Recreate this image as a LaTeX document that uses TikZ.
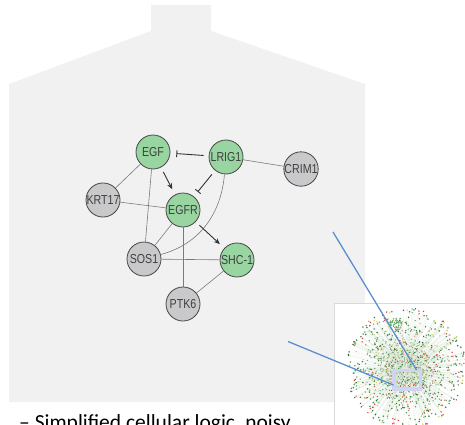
\documentclass[tikz,border=0pt]{standalone}
\usepackage{fontspec}
\setmainfont{Carlito}
\newfontfamily\genefont[FakeStretch=0.82]{Liberation Sans}
\usetikzlibrary{arrows.meta}
\definecolor{cellgrey}{HTML}{F1F1F1}
\definecolor{hitgreen}{HTML}{98D5A0}
\definecolor{othergrey}{HTML}{C9C9CB}
\definecolor{rimgrey}{HTML}{474747}
\definecolor{linkgrey}{HTML}{7A7A7A}
\definecolor{zoomblue}{HTML}{5B8FCF}
\definecolor{framelav}{HTML}{D2D2F4}
\definecolor{hb1}{HTML}{3C8A46}
\definecolor{hb2}{HTML}{2E7A3A}
\definecolor{hb3}{HTML}{6AAA6A}
\definecolor{hb4}{HTML}{E04848}
\definecolor{hb5}{HTML}{D9CF5A}
\definecolor{hb6}{HTML}{2F6B36}
\begin{document}
\begin{tikzpicture}[x=1pt,y=1pt,
  gene/.style={circle, draw=rimgrey, line width=0.8pt, minimum size=34pt, inner sep=0pt,
    font=\genefont\fontsize{13}{13}\selectfont, text=black!75},
  hit/.style={gene, fill=hitgreen},
  other/.style={gene, fill=othergrey},
  link/.style={draw=linkgrey, line width=0.6pt},
  act/.style={draw=black!80, line width=0.9pt, -{Stealth[length=6pt,width=5pt]},
    shorten <=5pt, shorten >=6pt},
  inhib/.style={draw=black!80, line width=0.9pt, -{Bar[width=7pt]},
    shorten <=5pt, shorten >=6pt},
  hbline/.style={draw=hb3!22, line width=0.15pt},
  zoomline/.style={draw=zoomblue, line width=1.3pt}]
  \useasboundingbox (0,0) rectangle (465,424);
  % cell outline
  \fill[cellgrey] (9,22) -- (9,340) -- (151,393) -- (151,419) -- (211,419)
    -- (211,393) -- (365,340) -- (365,22) -- cycle;
  % genes
  \node[hit] (EGF) at (153,272) {EGF};
  \node[hit] (LRIG1) at (226,267) {LRIG1};
  \node[other] (CRIM1) at (301,255) {CRIM1};
  \node[other] (KRT17) at (103,224) {KRT17};
  \node[hit] (EGFR) at (183,214) {EGFR};
  \node[other] (SOS1) at (144,165) {SOS1};
  \node[hit] (SHC1) at (237,164) {SHC-1};
  \node[other] (PTK6) at (183,120) {PTK6};
  % interactions
  \draw[link] (EGF) -- (KRT17);
  \draw[link] (EGF) -- (SOS1);
  \draw[link] (KRT17) -- (EGFR);
  \draw[link] (EGFR) -- (SOS1);
  \draw[link] (EGFR) -- (PTK6);
  \draw[link] (SOS1) -- (SHC1);
  \draw[link] (SHC1) -- (PTK6);
  \draw[link] (LRIG1) -- (CRIM1);
  \draw[link] (LRIG1) to[out=-95,in=15] (SOS1);
  \draw[act] (EGF) -- (EGFR);
  \draw[act] (EGFR) -- (SHC1);
  \draw[inhib] (LRIG1) -- (EGF);
  \draw[inhib] (LRIG1) -- (EGFR);
  % whole network inset
  \draw[draw=black!15, fill=white] (334,121) rectangle (470,-5);
  \begin{scope}
    \clip (335,-1) rectangle (466,120);
    \pgfmathsetseed{42}
    \foreach \i in {1,...,550}{
      \pgfmathsetmacro\ang{360*rnd}
      \pgfmathsetmacro\rad{10+50*sqrt(rnd)}
      \pgfmathsetmacro\inn{12*rnd}
      \pgfmathsetmacro\angb{\ang+40*(rnd-0.5)}
      \pgfmathsetmacro\mid{\rad*(0.3+0.5*rnd)}
      \pgfmathsetmacro\core{\rad*(0.1+0.4*rnd)}
      \pgfmathrandominteger\hue{1}{6}
      \pgfmathrandominteger\hueb{1}{6}
      \pgfmathrandominteger\huec{1}{6}
      \draw[hbline,shift={(406,56)}] (\angb:\inn) -- (\ang:\rad);
      \fill[fill=hb\hue,shift={(406,56)}] (\ang:\rad) circle (0.8);
      \fill[fill=hb\hueb,shift={(406,56)}] (\ang+7:\mid) circle (0.7);
      \fill[fill=hb\huec,shift={(406,56)}] (\ang-11:\core) circle (0.6);
    }
    \foreach \i in {1,...,50}{
      \pgfmathsetmacro\ang{360*rnd}
      \pgfmathsetmacro\rad{7*sqrt(rnd)}
      \fill[hb3,shift={(395,99)}] (\ang:\rad) circle (0.8);
    }
  \end{scope}
  \draw[framelav, line width=3.5pt] (394,35) rectangle (420.5,53.5);
  % zoom lines
  \coordinate (lensA) at (333,192);
  \coordinate (frameA) at (416.5,54);
  \coordinate (lensB) at (288,82.5);
  \coordinate (frameB) at (393.5,39);
  \draw[zoomline] (lensA) -- (frameA);
  \draw[zoomline] (lensB) -- (frameB);
  \node[anchor=base west, inner sep=0pt, font=\fontsize{21.5}{24}\selectfont] (caption)
    at (19,-5.5) {– Simplified cellular logic, noisy};
\end{tikzpicture}
\end{document}
